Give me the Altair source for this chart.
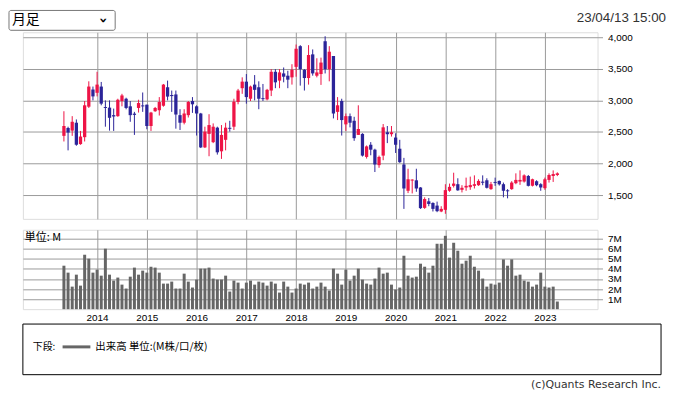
import altair as alt
import pandas as pd

# ---------------- data ----------------
months = [str(p) for p in pd.period_range("2013-05", "2023-04", freq="M")]

opens = [2438, 2563, 2521, 2646, 2307, 2417, 2900, 3172, 3120, 3219,
         2895, 2885, 2766, 2750, 2990, 3026, 2906, 2790, 2880, 2920,
         2932, 2594, 2828, 2844, 2915, 3208, 3085, 3094, 2766, 2646,
         2766, 2990, 2906, 2792, 2255, 2469, 2338, 2568, 2193, 2375,
         2565, 2583, 2974, 3193, 3297, 3026, 3250, 3208, 3035, 3016,
         3156, 3453, 3313, 3427, 3391, 3365, 3531, 3859, 3484, 3354,
         3729, 3391, 3417, 3937, 3495, 3703, 2818, 2990, 2620, 2750,
         2677, 2453, 2469, 2104, 2297, 2219, 1974, 2125, 2495, 2464,
         2411, 2234, 1984, 1568, 1730, 1734, 1620, 1297, 1401, 1375,
         1333, 1240, 1266, 1568, 1646, 1672, 1583, 1620, 1625, 1646,
         1656, 1712, 1734, 1594, 1708, 1724, 1672, 1575, 1594, 1688,
         1714, 1714, 1802, 1646, 1719, 1672, 1609, 1740, 1802, 1818]
highs = [2828, 2583, 2750, 2698, 2516, 2990, 3302, 3219, 3453, 3292,
         3000, 3000, 2870, 3026, 3104, 3042, 2990, 2818, 3010, 3125,
         2932, 2818, 2896, 3052, 3260, 3313, 3156, 3156, 2860, 2860,
         2990, 3052, 2922, 2802, 2583, 2781, 2635, 2583, 2609, 2646,
         2677, 3026, 3182, 3365, 3417, 3234, 3401, 3302, 3260, 3182,
         3495, 3495, 3495, 3521, 3469, 3573, 3885, 3875, 3495, 3875,
         3807, 3667, 3677, 4016, 3859, 3703, 3052, 3026, 2792, 2792,
         2740, 2922, 2480, 2286, 2339, 2234, 2125, 2625, 2594, 2594,
         2479, 2375, 2089, 1917, 1750, 1917, 1625, 1464, 1453, 1385,
         1396, 1323, 1672, 1682, 1854, 1766, 1656, 1776, 1792, 1812,
         1750, 1812, 1766, 1708, 1776, 1730, 1698, 1594, 1720, 1844,
         1891, 1828, 1818, 1760, 1735, 1688, 1776, 1844, 1891, 1860]
lows = [2349, 2208, 2438, 2281, 2297, 2349, 2880, 3000, 3063, 2922,
        2583, 2521, 2516, 2740, 2906, 2859, 2661, 2453, 2807, 2818,
        2542, 2516, 2818, 2760, 2900, 3000, 2818, 2552, 2531, 2620,
        2729, 2802, 2443, 2245, 2245, 2115, 2323, 2141, 2073, 2208,
        2505, 2531, 2938, 3104, 2948, 2990, 3000, 2860, 2990, 3000,
        3068, 3193, 3193, 3286, 3193, 3250, 3375, 3234, 3156, 3250,
        3391, 3365, 3245, 3427, 3302, 2714, 2688, 2443, 2516, 2573,
        2359, 2453, 2110, 2078, 2130, 1865, 1932, 2052, 2323, 2427,
        2167, 2010, 1281, 1531, 1526, 1552, 1281, 1281, 1323, 1240,
        1229, 1229, 1203, 1552, 1620, 1568, 1542, 1568, 1583, 1604,
        1646, 1656, 1604, 1583, 1646, 1650, 1464, 1448, 1583, 1672,
        1662, 1698, 1636, 1636, 1640, 1568, 1583, 1698, 1708, 1800]
closes = [2594, 2490, 2661, 2297, 2427, 2922, 3219, 3063, 3250, 2948,
          2880, 2724, 2745, 3010, 3078, 2880, 2766, 2770, 2958, 2905,
          2594, 2807, 2880, 2974, 3250, 3060, 3068, 2776, 2646, 2792,
          2974, 2938, 2792, 2255, 2505, 2609, 2583, 2177, 2453, 2568,
          2550, 2980, 3156, 3297, 3052, 3219, 3167, 3026, 3020, 3167,
          3453, 3286, 3443, 3375, 3328, 3484, 3818, 3495, 3354, 3719,
          3427, 3443, 3599, 3495, 3771, 2792, 2922, 2688, 2750, 2646,
          2401, 2547, 2125, 2271, 2219, 1984, 2104, 2573, 2464, 2495,
          2297, 2021, 1604, 1750, 1745, 1604, 1292, 1437, 1359, 1281,
          1245, 1281, 1578, 1630, 1682, 1575, 1615, 1646, 1658, 1672,
          1724, 1695, 1615, 1672, 1693, 1670, 1568, 1560, 1698, 1740,
          1740, 1812, 1646, 1750, 1656, 1620, 1750, 1818, 1833, 1844]
volumes_m = [4.32, 3.63, 2.24, 3.43, 2.34, 5.41, 5.02, 3.63, 3.93, 3.33,
             6.01, 3.43, 2.84, 3.14, 2.44, 2.05, 3.23, 4.13, 3.43, 3.83,
             3.63, 4.22, 4.13, 3.63, 2.54, 2.54, 2.74, 2.05, 2.05, 3.53,
             2.74, 2.15, 2.94, 4.03, 4.03, 4.13, 3.04, 2.94, 2.94, 3.33,
             1.75, 2.84, 2.64, 2.05, 2.64, 2.84, 2.44, 2.74, 2.64, 2.34,
             2.74, 2.54, 1.65, 2.74, 2.24, 1.65, 2.05, 2.54, 2.44, 2.64,
             2.05, 2.24, 2.64, 2.24, 1.85, 4.03, 3.53, 2.44, 3.93, 2.84,
             3.33, 4.03, 2.94, 2.54, 2.44, 3.04, 4.13, 3.53, 3.63, 2.44,
             1.95, 2.15, 5.31, 3.33, 3.14, 3.23, 4.52, 4.22, 3.63, 4.32,
             6.50, 6.50, 7.29, 5.12, 6.60, 5.81, 4.52, 4.82, 5.31, 4.22,
             3.83, 3.04, 2.24, 2.54, 2.44, 2.64, 4.95, 4.32, 4.95, 3.33,
             3.43, 2.84, 2.74, 2.24, 2.44, 3.63, 2.24, 2.15, 2.24, 0.76]

year_labels = ["2014", "2015", "2016", "2017", "2018", "2019", "2020", "2021", "2022", "2023"]
price_ticks = [1500, 2000, 2500, 3000, 3500, 4000]
volume_ticks = [1, 2, 3, 4, 5, 6, 7]

# ---------------- build table ----------------
df = pd.DataFrame({
    "idx": list(range(len(months))),
    "month": months,
    "open": opens, "high": highs, "low": lows, "close": closes,
    "vol": volumes_m,
})
df["dir"] = ["up" if c >= o else "down" for o, c in zip(opens, closes)]
year_idx = [months.index(y + "-01") for y in year_labels]

RED = "#EE1446"
BLUE = "#2B2499"
GRID = "#9a9a9a"
AXFONT = "DejaVu Sans"
JP = "Noto Sans CJK JP"

xs = alt.Scale(domain=[-8.7, 127.5], nice=False, zero=False)
ys = alt.Scale(domain=[1123, 4079], nice=False, zero=False)
color = alt.Color("dir:N", scale=alt.Scale(domain=["up", "down"], range=[RED, BLUE]), legend=None)

price_axis = alt.Axis(orient="right", values=price_ticks,
                      labelExpr="format(datum.value, ',')", labelOverlap=False,
                      title=None, domain=False, grid=True, gridColor=GRID, tickColor=GRID,
                      tickSize=5, labelPadding=5)

# ---------------- price panel ----------------
base = alt.Chart(df).encode(
    x=alt.X("idx:Q", scale=xs,
            axis=alt.Axis(values=year_idx, labels=False, ticks=False, domain=False,
                          grid=True, gridColor=GRID, title=None)),
    color=color,
)
wick = base.mark_rule(strokeWidth=1).encode(
    y=alt.Y("low:Q", scale=ys, axis=price_axis),
    y2="high:Q",
)
body = base.mark_bar(size=3.3).encode(
    y=alt.Y("open:Q", scale=ys, axis=price_axis),
    y2="close:Q",
)

one = pd.DataFrame({"a": [0]})
dd_box = alt.Chart(one).mark_rect(fill="white", stroke="#767676", strokeWidth=1, cornerRadius=2).encode(
    x=alt.value(-14), x2=alt.value(93), y=alt.value(-22), y2=alt.value(-2))
dd_text = alt.Chart(one).mark_text(align="left", baseline="middle", font=JP, fontSize=14, color="#000").encode(
    x=alt.value(-11), y=alt.value(-12), text=alt.value("月足"))
dd_chev = alt.Chart(one).mark_text(align="center", baseline="middle", font=AXFONT, fontSize=15,
                                   fontWeight="bold", angle=90, color="#000").encode(
    x=alt.value(82), y=alt.value(-12), text=alt.value("›"))
date_text = alt.Chart(one).mark_text(align="right", baseline="middle", font="Liberation Sans",
                                     fontSize=13.5, color="#333").encode(
    x=alt.value(648), y=alt.value(-14), text=alt.value("23/04/13 15:00"))

price = alt.layer(wick, body, dd_box, dd_text, dd_chev, date_text).properties(width=579, height=188)

# ---------------- volume panel ----------------
vbars = alt.Chart(df).mark_bar(size=3, color="#666666").encode(
    x=alt.X("idx:Q", scale=xs,
            axis=alt.Axis(values=year_idx, labelExpr="'' + (2014 + (datum.value - 8) / 12)",
                          ticks=False, domain=False, grid=True, gridColor=GRID,
                          labelPadding=3, title=None, labelOverlap=False)),
    y=alt.Y("vol:Q", scale=alt.Scale(domain=[0, 7.89], nice=False),
            axis=alt.Axis(orient="right", values=volume_ticks, labelExpr="datum.value + 'M'",
                          labelOverlap=False,
                          title=None, domain=False, grid=True, gridColor=GRID, tickColor=GRID,
                          tickSize=5, labelPadding=5)),
)
unit_text = alt.Chart(one).mark_text(align="left", baseline="middle", font=JP, fontSize=11, color="#000").encode(
    x=alt.value(2), y=alt.value(8), text=alt.value("単位: M"))
leg_box = alt.Chart(one).mark_rect(fillOpacity=0, stroke="#000", strokeWidth=1).encode(
    x=alt.value(0), x2=alt.value(643), y=alt.value(95), y2=alt.value(146))
leg_lbl = alt.Chart(one).mark_text(align="left", baseline="middle", font=JP, fontSize=10, color="#000").encode(
    x=alt.value(10), y=alt.value(118), text=alt.value("下段:"))
leg_line = alt.Chart(one).mark_rule(strokeWidth=3, color="#666666").encode(
    x=alt.value(40), x2=alt.value(68), y=alt.value(118))
leg_txt = alt.Chart(one).mark_text(align="left", baseline="middle", font=JP, fontSize=10.5, color="#000").encode(
    x=alt.value(73), y=alt.value(118), text=alt.value("出来高 単位:(M株/口/枚)"))
copy_txt = alt.Chart(one).mark_text(align="right", baseline="middle", font=AXFONT, fontSize=11,
                                    color="#333").encode(
    x=alt.value(643), y=alt.value(156), text=alt.value("(c)Quants Research Inc."))

volume = alt.layer(vbars, unit_text, leg_box, leg_lbl, leg_line, leg_txt, copy_txt).properties(width=579, height=80)

chart = alt.vconcat(price, volume, spacing=11, bounds="flush").properties(
    padding={"left": 0, "top": 0, "right": 0, "bottom": 0}
).configure_view(stroke=GRID).configure_axis(
    labelFont=AXFONT, labelFontSize=10, labelColor="#222"
).configure(background="white")

chart.save("out.html", embed_options={"renderer": "svg", "actions": False})
